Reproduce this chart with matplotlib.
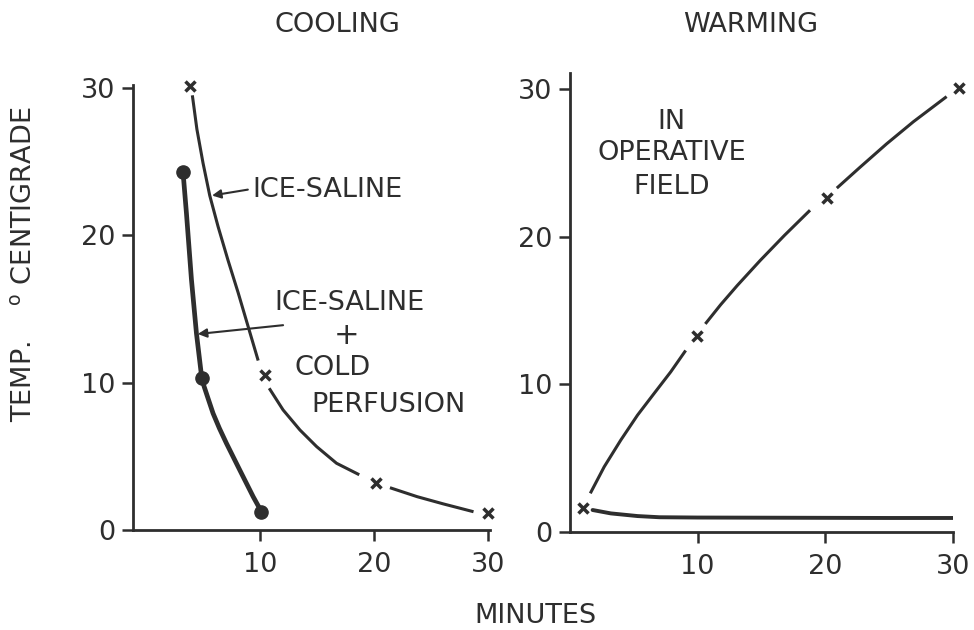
import matplotlib
matplotlib.use("Agg")
import matplotlib.pyplot as plt

# ---- data ----
# Cooling: ice-saline (x markers) and the drawn curve segments between them
ice_pts_x = [3.8, 10.4, 20.2, 30.0]
ice_pts_y = [30.1, 10.5, 3.2, 1.13]
ice_seg1_x = [4.02, 4.42, 4.96, 5.55, 6.28, 7.16, 8.05, 8.93, 9.81]
ice_seg1_y = [29.5, 27.2, 24.9, 22.7, 20.6, 18.3, 16.1, 13.8, 11.5]
ice_seg2_x = [10.78, 12.0, 13.48, 14.95, 16.7, 18.7]
ice_seg2_y = [9.62, 8.15, 6.79, 5.66, 4.53, 3.75]
ice_seg3_x = [21.4, 23.8, 26.1, 28.75]
ice_seg3_y = [2.87, 2.26, 1.77, 1.24]

# Cooling: ice-saline + cold perfusion (dots)
perf_pts_x = [3.2, 4.85, 10.1]
perf_pts_y = [24.3, 10.3, 1.24]
perf_curve_x = [3.2, 3.5, 3.94, 4.38, 4.85, 5.05, 5.35, 5.84, 6.4, 7.02, 8.19, 9.37, 10.1]
perf_curve_y = [24.3, 21.5, 17.0, 13.35, 10.3, 9.75, 9.05, 7.92, 6.9, 5.88, 4.07, 2.26, 1.24]

# Warming: in operative field (x markers) and curve segments
warm_pts_x = [0.99, 9.92, 20.1, 30.5]
warm_pts_y = [1.6, 13.3, 22.6, 30.1]
warm_seg1_x = [1.59, 2.68, 3.98, 5.29, 6.59, 7.89, 9.06]
warm_seg1_y = [2.62, 4.42, 6.23, 7.92, 9.39, 10.85, 12.3]
warm_seg2_x = [10.6, 11.8, 13.1, 14.9, 16.8, 18.8]
warm_seg2_y = [14.1, 15.4, 16.7, 18.4, 20.1, 21.8]
warm_seg3_x = [20.9, 22.7, 24.8, 26.9, 29.5]
warm_seg3_y = [23.3, 24.7, 26.3, 27.8, 29.5]

# Warming: lower flat curve
low_curve_x = [1.77, 3.2, 5.29, 7.0, 10.0, 15.0, 20.0, 25.0, 30.0]
low_curve_y = [1.49, 1.26, 1.08, 1.0, 0.98, 0.97, 0.96, 0.95, 0.95]

y_ticks = [0, 10, 20, 30]
x_ticks = [10, 20, 30]

INK = "#2e2e2e"
plt.rcParams["font.family"] = ["DejaVu Sans"]
FS = 19.5

fig = plt.figure(figsize=(9.74, 6.30), dpi=100)
fig.patch.set_facecolor("white")

ax1 = fig.add_axes([133/974, 1-530/630, (490-133)/974, (530-85)/630])
ax2 = fig.add_axes([570/974, 1-532/630, (953-570)/974, (532-73)/630])

for ax in (ax1, ax2):
    for s in ("top", "right"):
        ax.spines[s].set_visible(False)
    for s in ("left", "bottom"):
        ax.spines[s].set_linewidth(2.0)
        ax.spines[s].set_color(INK)
    ax.set_yticks(y_ticks)
    ax.set_xticks(x_ticks)
    ax.tick_params(direction="out", length=8, width=1.8, color=INK,
                   labelsize=FS, labelcolor=INK)
    ax.tick_params(axis="x", pad=8)
    ax.tick_params(axis="y", pad=5)

ax1.set_xlim(-1.2, 30.2)
ax1.set_ylim(0, 30.2)
ax2.set_xlim(0, 30.0)
ax2.set_ylim(0, 31.1)

def xmarks(ax, xs, ys):
    ax.plot(xs, ys, linestyle="none", marker="x", markersize=6.5,
            markeredgewidth=2.5, color=INK, zorder=4, clip_on=False)

# left panel
for sx, sy in ((ice_seg1_x, ice_seg1_y), (ice_seg2_x, ice_seg2_y), (ice_seg3_x, ice_seg3_y)):
    ax1.plot(sx, sy, color=INK, lw=2.2, zorder=2, solid_capstyle="butt")
xmarks(ax1, ice_pts_x, ice_pts_y)
ax1.plot(perf_curve_x, perf_curve_y, color=INK, lw=3.4, zorder=2,
         solid_capstyle="round", solid_joinstyle="round")
ax1.plot(perf_pts_x, perf_pts_y, linestyle="none", marker="o", markersize=9.5,
         color=INK, zorder=4)

ax1.annotate("", xy=(5.75, 22.7), xytext=(8.9, 23.1),
             arrowprops=dict(arrowstyle="-|>", color=INK, lw=1.5, mutation_scale=13,
                             shrinkA=0, shrinkB=0))
ax1.text(9.3, 23.1, "ICE-SALINE", fontsize=FS, color=INK, ha="left", va="center")
ax1.annotate("", xy=(4.5, 13.3), xytext=(12.0, 13.9),
             arrowprops=dict(arrowstyle="-|>", color=INK, lw=1.5, mutation_scale=13,
                             shrinkA=0, shrinkB=0))
ax1.text(17.8, 15.4, "ICE-SALINE", fontsize=FS, color=INK, ha="center", va="center")
ax1.text(17.6, 13.2, "+", fontsize=22, color=INK, ha="center", va="center")
ax1.text(13.0, 11.0, "COLD", fontsize=FS, color=INK, ha="left", va="center")
ax1.text(14.5, 8.5, "PERFUSION", fontsize=FS, color=INK, ha="left", va="center")

# right panel
for sx, sy in ((warm_seg1_x, warm_seg1_y), (warm_seg2_x, warm_seg2_y), (warm_seg3_x, warm_seg3_y)):
    ax2.plot(sx, sy, color=INK, lw=2.2, zorder=2, solid_capstyle="butt",
             solid_joinstyle="round")
ax2.plot(low_curve_x, low_curve_y, color=INK, lw=2.8, zorder=2, solid_capstyle="round")
xmarks(ax2, warm_pts_x, warm_pts_y)

ax2.text(7.97, 27.8, "IN", fontsize=FS, color=INK, ha="center", va="center")
ax2.text(7.97, 25.7, "OPERATIVE", fontsize=FS, color=INK, ha="center", va="center")
ax2.text(7.97, 23.4, "FIELD", fontsize=FS, color=INK, ha="center", va="center")

# titles & axis labels
fig.text(337/974, 1-25/630, "COOLING", fontsize=FS, color=INK, ha="center", va="center")
fig.text(751/974, 1-25/630, "WARMING", fontsize=FS, color=INK, ha="center", va="center")
fig.text(535/974, 1-616/630, "MINUTES", fontsize=FS, color=INK, ha="center", va="center")
fig.text(25/974, 1-264/630, "TEMP.    $^{\\mathrm{o}}$ CENTIGRADE", fontsize=FS, color=INK,
         ha="center", va="center", rotation=90)

fig.savefig("out.png", dpi=100, facecolor="white")
